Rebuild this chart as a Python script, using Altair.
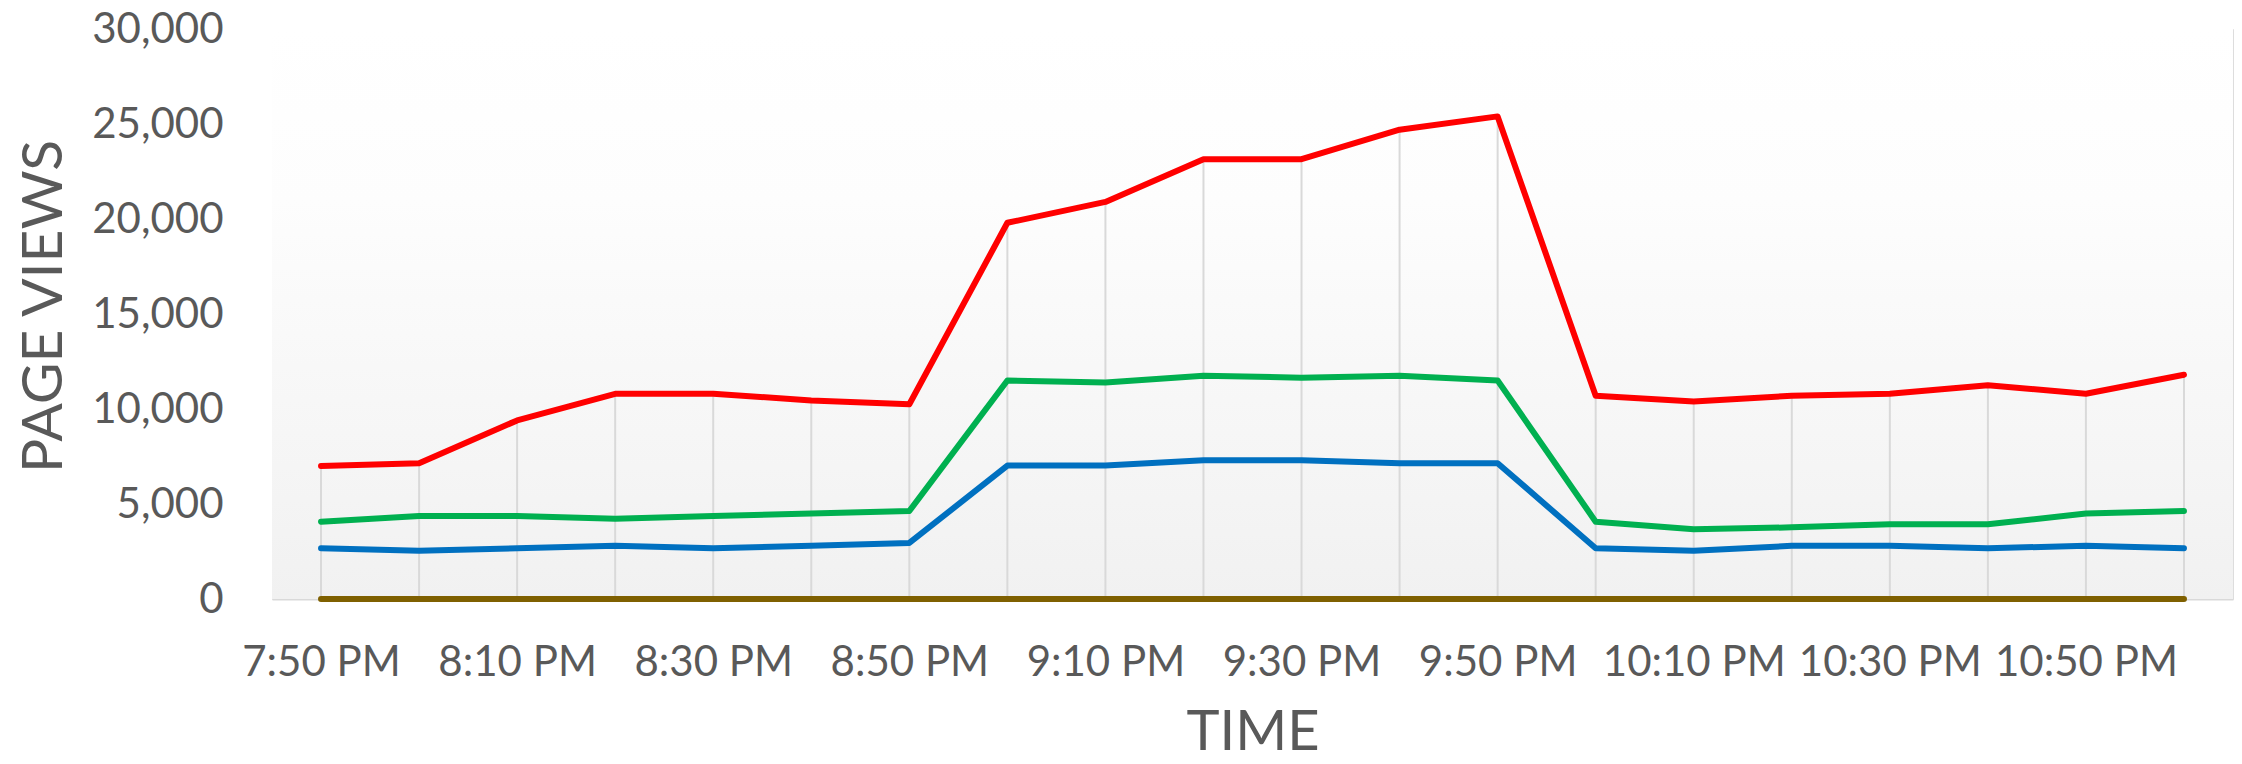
import altair as alt
import pandas as pd

times = ["7:50 PM", "8:00 PM", "8:10 PM", "8:20 PM", "8:30 PM", "8:40 PM", "8:50 PM",
         "9:00 PM", "9:10 PM", "9:20 PM", "9:30 PM", "9:40 PM", "9:50 PM",
         "10:00 PM", "10:10 PM", "10:20 PM", "10:30 PM", "10:40 PM", "10:50 PM", "11:00 PM"]
red_vals = [7000, 7150, 9400, 10800, 10800, 10450, 10250, 19800, 20900, 23150,
            23150, 24700, 25400, 10700, 10400, 10700, 10800, 11250, 10800, 11800]
green_vals = [4070, 4370, 4370, 4230, 4370, 4500, 4630, 11500, 11400, 11750,
              11650, 11750, 11500, 4070, 3670, 3770, 3930, 3930, 4500, 4630]
blue_vals = [2670, 2540, 2670, 2800, 2670, 2800, 2950, 7020, 7020, 7300,
             7300, 7150, 7150, 2670, 2540, 2800, 2800, 2670, 2800, 2670]
olive_vals = [0] * 20
y_ticks = [0, 5000, 10000, 15000, 20000, 25000, 30000]
labeled_times = times[::2]

series_names = ["Olive", "Blue", "Green", "Red"]
series_colors = ["#7F6000", "#0070C0", "#00B050", "#FF0000"]

rows = []
for name, vals in zip(series_names, [olive_vals, blue_vals, green_vals, red_vals]):
    for i, (t, v) in enumerate(zip(times, vals)):
        rows.append({"time": t, "views": v, "series": name, "idx": i})
df = pd.DataFrame(rows)
drop_df = pd.DataFrame({"time": times, "views": red_vals, "base": [0] * len(times)})

W, H = 1961, 570
FONT = "Lato"
TXT = "#595959"

label_list = "[" + ",".join("'" + t + "'" for t in labeled_times) + "]"

x_enc = alt.X(
    "time:O",
    sort=times,
    scale=alt.Scale(type="point", padding=0.5),
    axis=alt.Axis(
        title="TIME",
        labelExpr=f"indexof({label_list}, datum.value) >= 0 ? datum.value : ''",
        labelAngle=0,
        labelFont=FONT, labelFontSize=42, labelColor=TXT, labelPadding=43,
        labelOverlap=False, labelBound=False, labelLimit=0,
        titleFont=FONT, titleFontSize=56, titleColor=TXT, titleFontWeight="normal",
        titleBaseline="alphabetic", titleY=150,
        domain=True, domainColor="#d9d9d9", domainWidth=2,
        ticks=False, grid=False,
    ),
)
y_axis = alt.Axis(
    title="PAGE VIEWS", values=y_ticks,
    labelExpr="format(datum.value, ',')",
    labelFont=FONT, labelFontSize=42, labelColor=TXT, labelPadding=49,
    titleFont=FONT, titleFontSize=57, titleColor=TXT, titleFontWeight="normal",
    titleX=-228, titleY=277, titleBaseline="middle",
    domain=False, ticks=False, grid=False)
y_scale = alt.Scale(domain=[0, 30000], nice=False)

bg = alt.Chart(alt.Data(values=[{"a": 1}])).mark_rect(
    fill=alt.LinearGradient(
        gradient="linear",
        stops=[alt.GradientStop(color="#ffffff", offset=0),
               alt.GradientStop(color="#fdfdfd", offset=0.3),
               alt.GradientStop(color="#f1f1f1", offset=1)],
        x1=0, x2=0, y1=0, y2=1),
).encode(x=alt.value(0), x2=alt.value(W), y=alt.value(0), y2=alt.value(H))

drops = alt.Chart(drop_df).mark_rule(color="#d9d9d9", strokeWidth=2).encode(
    x=x_enc,
    y=alt.Y("views:Q", scale=y_scale, axis=y_axis),
    y2="base:Q",
)

lines = alt.Chart(df).mark_line(strokeWidth=6, strokeCap="round", strokeJoin="round").encode(
    x=x_enc,
    y=alt.Y("views:Q", scale=y_scale, axis=y_axis),
    color=alt.Color("series:N", scale=alt.Scale(domain=series_names, range=series_colors), legend=None),
    order=alt.Order("idx:Q"),
    detail="series:N",
)

chart = alt.layer(bg, drops, lines).properties(
    width=W, height=H,
    autosize=alt.AutoSizeParams(type="none"),
    padding={"left": 272, "top": 29, "right": 9, "bottom": 165},
).configure_view(stroke=None).configure(background="white")

chart.save("out.html", embed_options={"renderer": "svg", "actions": False})
